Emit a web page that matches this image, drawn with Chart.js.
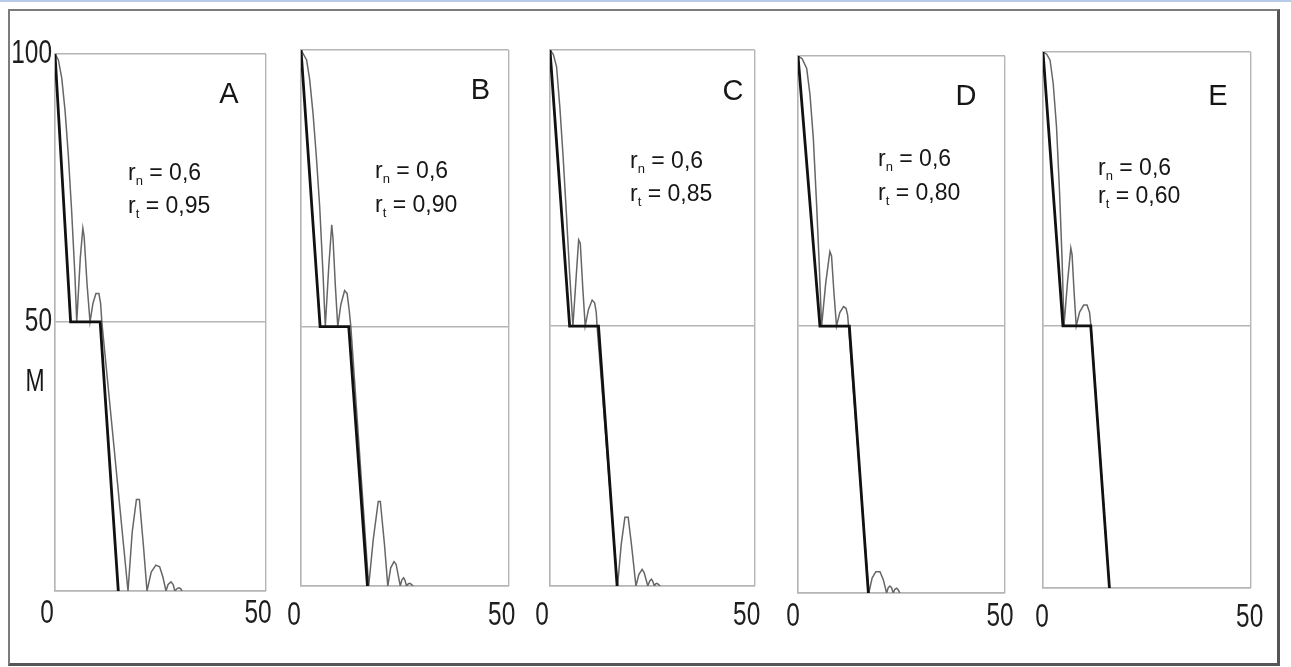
<!DOCTYPE html>
<html>
<head>
<meta charset="utf-8">
<script src="https://cdn.jsdelivr.net/npm/chart.js@4.4.1/dist/chart.umd.min.js"></script>
<style>
  html, body { margin: 0; padding: 0; background: #fff; }
  body { width: 1291px; height: 667px; overflow: hidden; position: relative; }
  #topline { position: absolute; left: 0; top: 0; width: 1291px; height: 2px; background: #b7cbe9; }
  #frame { position: absolute; left: 8px; top: 9px; width: 1267px; height: 652px;
           border-left: 2px solid #7c7c7c; border-top: 2px solid #7c7c7c;
           border-right: 3px solid #555; border-bottom: 3px solid #555; }
  canvas { position: absolute; }
</style>
</head>
<body>
<div id="topline"></div>
<div id="frame"></div>
<script>
// ---------------- DATA ----------------
const panelLetters = ['A', 'B', 'C', 'D', 'E'];
const rnValues = ['0,6', '0,6', '0,6', '0,6', '0,6'];
const rtValues = ['0,95', '0,90', '0,85', '0,80', '0,60'];
const xTicks = [0, 50];
const xTickLabels = ['0', '50'];
const yTicks = [0, 50, 100];
const yTickLabels = ['', '50', '100'];
const yTitle = 'M';

// thick (black) piecewise curves [x, M]
const thickA = [[0,100],[3.7,50],[10.7,50],[15.0,0]];
const thickB = [[0,100],[4.6,50],[11.5,50],[16.0,0]];
const thickC = [[0,100],[4.8,50],[11.85,50],[16.4,0]];
const thickD = [[0,100],[5.3,50],[12.4,50],[17.0,0]];
const thickE = [[0,100],[4.8,50],[11.5,50],[16.0,0]];

// thin (grey) oscillating curves [x, M]
const thinA = [[0,100],[0.8,98.9],[1.6,95.5],[2.4,89.3],[3.15,81.2],[3.95,70.6],[4.75,58.2],[5.15,50],
  [6.0,62],[6.6,67.5],[6.9,66],[7.6,57],[8.3,50],
  [9.0,53.5],[9.7,55.3],[10.4,55.3],[10.8,53.5],[11.1,50],
  [17.3,0],
  [18.3,11],[19.3,17],[20.0,17],[21.0,8],[21.8,0],
  [22.8,3.5],[23.9,4.8],[24.8,4.5],[25.6,2.5],[26.3,0],
  [26.8,1.2],[27.5,1.7],[28.0,1.2],[28.4,0],
  [29.0,0.5],[29.4,0.6],[29.8,0.4],[30.1,0]];
const thinB = [[0,100],[1.35,98.2],[2.1,94.6],[2.9,88.5],[3.7,80.7],[4.5,71.7],[5.3,59.6],[5.85,50],
  [6.7,61],[7.4,68.4],[7.7,66],[8.3,57],[8.85,50],
  [9.6,54],[10.5,56.5],[11.1,56],[11.6,53],[12.0,50],
  [16.3,0],
  [17.4,9],[18.6,16.3],[19.1,16.3],[20.1,8],[20.9,0],
  [21.6,3.5],[22.4,4.7],[22.9,4.2],[23.9,0],
  [24.3,1.2],[24.7,1.6],[25.0,1.2],[25.4,0],
  [25.8,0.4],[26.2,0.5],[26.6,0.3],[27.0,0]];
const thinC = [[0,100],[0.8,99.2],[1.6,97],[2.4,89.7],[3.2,80.7],[4.0,70.4],[4.8,59.5],[5.6,50],
  [6.4,59],[7.0,65.6],[7.4,65],[8.0,57],[8.6,50],
  [9.4,53],[10.3,54.7],[10.9,54.2],[11.3,52.5],[11.5,50],
  [16.5,0],
  [17.4,8],[18.3,13.2],[19.1,13.2],[19.9,8],[21.0,0],
  [21.7,2.2],[22.5,3.2],[23.0,2.6],[23.9,0],
  [24.4,1.0],[24.8,1.3],[25.1,0.9],[25.5,0],
  [25.8,0.4],[26.1,0.5],[26.5,0.3],[26.9,0]];
const thinD = [[0,100],[1.0,99.5],[2.1,97.7],[2.9,92.8],[3.7,84.8],[4.5,72.4],[5.1,61.9],[5.7,50],
  [6.7,58],[7.7,63.8],[8.1,63],[8.7,56],[9.3,50],
  [10.1,52.5],[11.0,53.6],[11.6,53.3],[12.0,52],[12.2,50],
  [17.1,0],
  [17.9,2.8],[18.8,4.0],[19.8,4.0],[20.6,2.5],[21.4,0],
  [21.8,1.0],[22.2,1.3],[22.6,1.0],[23.0,0],
  [23.4,0.7],[23.8,0.9],[24.2,0.6],[24.6,0]];
const thinE = [[0,100],[0.9,99.6],[1.7,98.5],[2.45,94.3],[3.25,86.4],[4.0,74.2],[4.6,62.0],[5.05,50],
  [5.9,58],[6.7,64.2],[7.0,63],[7.5,56],[8.0,50],
  [8.8,52.5],[9.8,53.8],[10.6,53.8],[11.2,52.5],[11.55,50],
  [16.0,0]];

const thickSeries = [thickA, thickB, thickC, thickD, thickE];
const thinSeries = [thinA, thinB, thinC, thinD, thinE];

// ---------------- LAYOUT (positions / styles) ----------------
const layoutCfg = [
  { box:[55,54,266,591],   midDec:0.501, labelOffset:-8, labelPad:3,  letter:[174,41],   text:[73,126,159] },
  { box:[301,50,512,586],  midDec:0.484, labelOffset:-7, labelPad:10, letter:[179.5,41], text:[74,128,162] },
  { box:[550,50,758,586],  midDec:0.485, labelOffset:-8, labelPad:10, letter:[183,42],   text:[80,118,151] },
  { box:[798,56,1005,593], midDec:0.497, labelOffset:-5, labelPad:4,  letter:[168,41],   text:[80,110,144] },
  { box:[1043,52,1254,588],midDec:0.489, labelOffset:-1, labelPad:10, letter:[175,45],   text:[55,123,151] }
];
const yTitleValue = 38.85;
const condense = 0.74;   // horizontal squeeze of the axis lettering (narrow typeface look)
const tickFont = { family: '"Liberation Sans", Arial, sans-serif', size: 33, lineHeight: 1.2 };
const textFamily = '"Liberation Sans", Arial, sans-serif';
const gridColor = '#b5b5b5';

// draw tick labels horizontally condensed around their anchor
function condensedDrawLabels(scale, area, superDraw) {
  const ctx = scale.ctx;
  const origTranslate = ctx.translate;
  ctx.translate = function (x, y) { origTranslate.call(this, x, y); this.scale(condense, 1); };
  try { superDraw.call(scale, area); } finally { ctx.translate = origTranslate; }
}

class CondensedLinearScale extends Chart.LinearScale {
  drawLabels(area) { condensedDrawLabels(this, area, super.drawLabels); }
}
CondensedLinearScale.id = 'condensedLinear';
CondensedLinearScale.defaults = Chart.LinearScale.defaults;
Chart.register(CondensedLinearScale);

function makeSplitScale(id, midDec) {
  class SplitScale extends Chart.LinearScale {
    getPixelForValue(value) {
      if (value === null || value === undefined || isNaN(value)) return NaN;
      const lo = this.min, hi = this.max, mid = (lo + hi) / 2;
      const d = value <= mid ? (value - lo) / (mid - lo) * midDec
                             : midDec + (value - mid) / (hi - mid) * (1 - midDec);
      return this.getPixelForDecimal(d);
    }
    getValueForPixel(pixel) {
      const d = this.getDecimalForPixel(pixel);
      const lo = this.min, hi = this.max, mid = (lo + hi) / 2;
      return d <= midDec ? lo + d / midDec * (mid - lo) : mid + (d - midDec) / (1 - midDec) * (hi - mid);
    }
    drawLabels(area) { condensedDrawLabels(this, area, super.drawLabels); }
  }
  SplitScale.id = id;
  SplitScale.defaults = Chart.LinearScale.defaults;
  Chart.register(SplitScale);
}

const annotPlugin = {
  id: 'annot',
  afterDraw(chart, args, opts) {
    const { ctx, chartArea } = chart;
    const i = opts.index;
    const P = layoutCfg[i];
    ctx.save();
    ctx.fillStyle = '#161616';
    // panel letter
    ctx.font = '29px ' + textFamily;
    ctx.textAlign = 'center';
    ctx.textBaseline = 'middle';
    ctx.fillText(panelLetters[i], chartArea.left + P.letter[0], chartArea.top + P.letter[1]);
    // r_n and r_t lines
    ctx.textAlign = 'left';
    ctx.textBaseline = 'alphabetic';
    const drawSub = (x, y, main, sub, rest) => {
      ctx.font = '23px ' + textFamily;
      ctx.fillText(main, x, y); x += ctx.measureText(main).width;
      ctx.font = '13px ' + textFamily;
      ctx.fillText(sub, x, y + 5); x += ctx.measureText(sub).width;
      ctx.font = '23px ' + textFamily;
      ctx.fillText(rest, x, y);
    };
    const tx = chartArea.left + P.text[0];
    drawSub(tx, chartArea.top + P.text[1], 'r', 'n', ' = ' + rnValues[i]);
    drawSub(tx, chartArea.top + P.text[2], 'r', 't', ' = ' + rtValues[i]);
    // y-axis title (only on first panel)
    if (i === 0) {
      ctx.translate(chartArea.left - 20, chart.scales.y.getPixelForValue(yTitleValue));
      ctx.scale(condense, 1);
      ctx.font = '31px ' + tickFont.family;
      ctx.textAlign = 'center';
      ctx.textBaseline = 'middle';
      ctx.fillText(yTitle, 0, 0);
    }
    ctx.restore();
  }
};

function makePanel(i) {
  const P = layoutCfg[i];
  const [L, T, R, B] = P.box;
  const yW = i === 0 ? 50 : 20, padL = 5, padR = 25, padT = 25, xH = 50, padB = 5;
  const w = (R - L) + yW + padL + padR;
  const h = (B - T) + padT + xH + padB;
  const cv = document.createElement('canvas');
  cv.width = w; cv.height = h;
  cv.style.width = w + 'px'; cv.style.height = h + 'px';
  cv.style.left = (L - yW - padL) + 'px';
  cv.style.top = (T - padT) + 'px';
  document.body.appendChild(cv);
  const scaleId = 'splitLinear' + i;
  makeSplitScale(scaleId, P.midDec);
  const toXY = arr => arr.map(p => ({ x: p[0], y: p[1] }));
  new Chart(cv, {
    type: 'line',
    data: {
      datasets: [
        { data: toXY(thickSeries[i]), borderColor: '#111', borderWidth: 2.8, pointRadius: 0, tension: 0, fill: false },
        { data: toXY(thinSeries[i]), borderColor: '#666', borderWidth: 1.5, pointRadius: 0, tension: 0, fill: false }
      ]
    },
    options: {
      responsive: false,
      animation: false,
      devicePixelRatio: 1,
      layout: { padding: { left: padL, right: padR, top: padT, bottom: padB } },
      plugins: { legend: { display: false }, tooltip: { enabled: false }, annot: { index: i } },
      scales: {
        x: {
          type: 'condensedLinear', min: 0, max: 50,
          afterBuildTicks: s => { s.ticks = xTicks.map(v => ({ value: v })); },
          afterFit: s => { s.height = xH; },
          ticks: { callback: (v) => xTickLabels[xTicks.indexOf(v)], font: tickFont, color: '#1e1e1e',
                   padding: P.labelPad, labelOffset: P.labelOffset, maxRotation: 0, autoSkip: false },
          grid: { color: gridColor, lineWidth: 1.4, drawTicks: false },
          border: { display: true, color: gridColor, width: 1.4 }
        },
        y: {
          type: scaleId, min: 0, max: 100,
          afterBuildTicks: s => { s.ticks = yTicks.map(v => ({ value: v })); },
          afterFit: s => { s.width = yW; },
          ticks: { display: i === 0, callback: (v) => yTickLabels[yTicks.indexOf(v)], font: tickFont,
                   color: '#1e1e1e', padding: 3, autoSkip: false },
          grid: { color: gridColor, lineWidth: 1.4, drawTicks: false },
          border: { display: true, color: gridColor, width: 1.4 }
        }
      }
    },
    plugins: [annotPlugin]
  });
}

for (let i = 0; i < 5; i++) makePanel(i);
</script>
</body>
</html>
